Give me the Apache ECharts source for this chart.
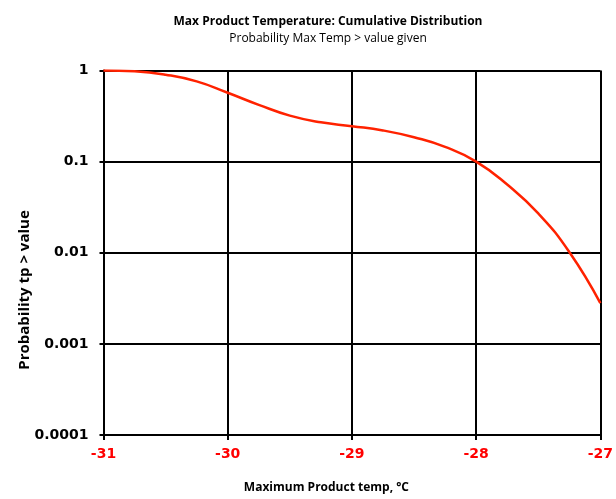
<!DOCTYPE html>
<html>
<head>
<meta charset="utf-8">
<script src="https://cdn.jsdelivr.net/npm/echarts@6/dist/echarts.min.js"></script>
<style>
  html, body { margin: 0; padding: 0; background: #fff; overflow: hidden; }
  #chart { width: 616px; height: 499px; }
</style>
</head>
<body>
<div id="chart"></div>
<script>
// Max product temperature (°C) and probability that the maximum exceeds it
const temps = [-31, -30.75, -30.5, -30.25, -30, -29.75, -29.5, -29.25, -29,
               -28.75, -28.5, -28.25, -28, -27.75, -27.5, -27.25, -27];
const probExceed = [1.0, 0.98, 0.90, 0.76, 0.57, 0.42, 0.32, 0.27, 0.245,
                    0.22, 0.185, 0.145, 0.10, 0.056, 0.027, 0.0102, 0.0028];
const yTickLabels = ['0.0001', '0.001', '0.01', '0.1', '1'];

const chart = echarts.init(document.getElementById('chart'));

const tickFont = { fontFamily: 'DejaVu Sans', fontWeight: 'bold', fontSize: 14 };

chart.setOption({
  animation: false,
  backgroundColor: '#fff',
  title: [
    {
      text: 'Max Product Temperature: Cumulative Distribution',
      left: 323, top: 11, textAlign: 'center',
      textStyle: { fontFamily: 'Open Sans', fontWeight: 'bold', fontSize: 12, color: '#000' }
    },
    {
      text: 'Probability Max Temp > value given',
      left: 323, top: 28, textAlign: 'center',
      textStyle: { fontFamily: 'Open Sans', fontWeight: 'normal', fontSize: 12, color: '#000' }
    }
  ],
  // vertical axis title, rotated to read bottom-to-top
  graphic: [{
    type: 'text',
    x: 25, y: 290,
    rotation: Math.PI / 2,
    style: {
      text: 'Probability tp > value',
      fontFamily: 'Open Sans', fontWeight: 'bold', fontSize: 15, fill: '#000',
      align: 'center', verticalAlign: 'middle'
    }
  }],
  grid: { left: 103.5, top: 70.5, width: 499.5, height: 367.5, containLabel: false },
  xAxis: {
    type: 'value',
    min: -31, max: -27, interval: 1,
    name: 'Maximum Product temp, °C',
    nameLocation: 'middle',
    nameGap: 47,
    nameTextStyle: { fontFamily: 'Open Sans', fontWeight: 'bold', fontSize: 12, color: '#000', padding: [0, 51, 0, 0] },
    axisLine: { show: true, onZero: false, lineStyle: { color: '#000', width: 2 } },
    axisTick: { show: true, inside: false, length: 5, lineStyle: { color: '#000', width: 2 } },
    axisLabel: Object.assign({ color: '#ff0000', margin: 12 }, tickFont),
    splitLine: { show: true, lineStyle: { color: '#000', width: 2 } }
  },
  yAxis: {
    type: 'log',
    logBase: 10,
    min: 0.0001, max: 1,
    axisLine: { show: true, lineStyle: { color: '#000', width: 2 } },
    axisTick: { show: true, inside: false, length: 4, lineStyle: { color: '#000', width: 2 } },
    axisLabel: Object.assign({
      color: '#000', margin: 15,
      formatter: function (v) {
        const i = Math.round(Math.log10(v)) + 4;
        return yTickLabels[i] !== undefined ? yTickLabels[i] : '';
      }
    }, tickFont),
    splitLine: { show: true, lineStyle: { color: '#000', width: 2 } },
    minorTick: { show: false }
  },
  series: [{
    type: 'line',
    data: temps.map((t, i) => [t, probExceed[i]]),
    smooth: 0.5,
    showSymbol: false,
    clip: true,
    lineStyle: { color: '#ff2200', width: 2.5 }
  }]
});
</script>
</body>
</html>
